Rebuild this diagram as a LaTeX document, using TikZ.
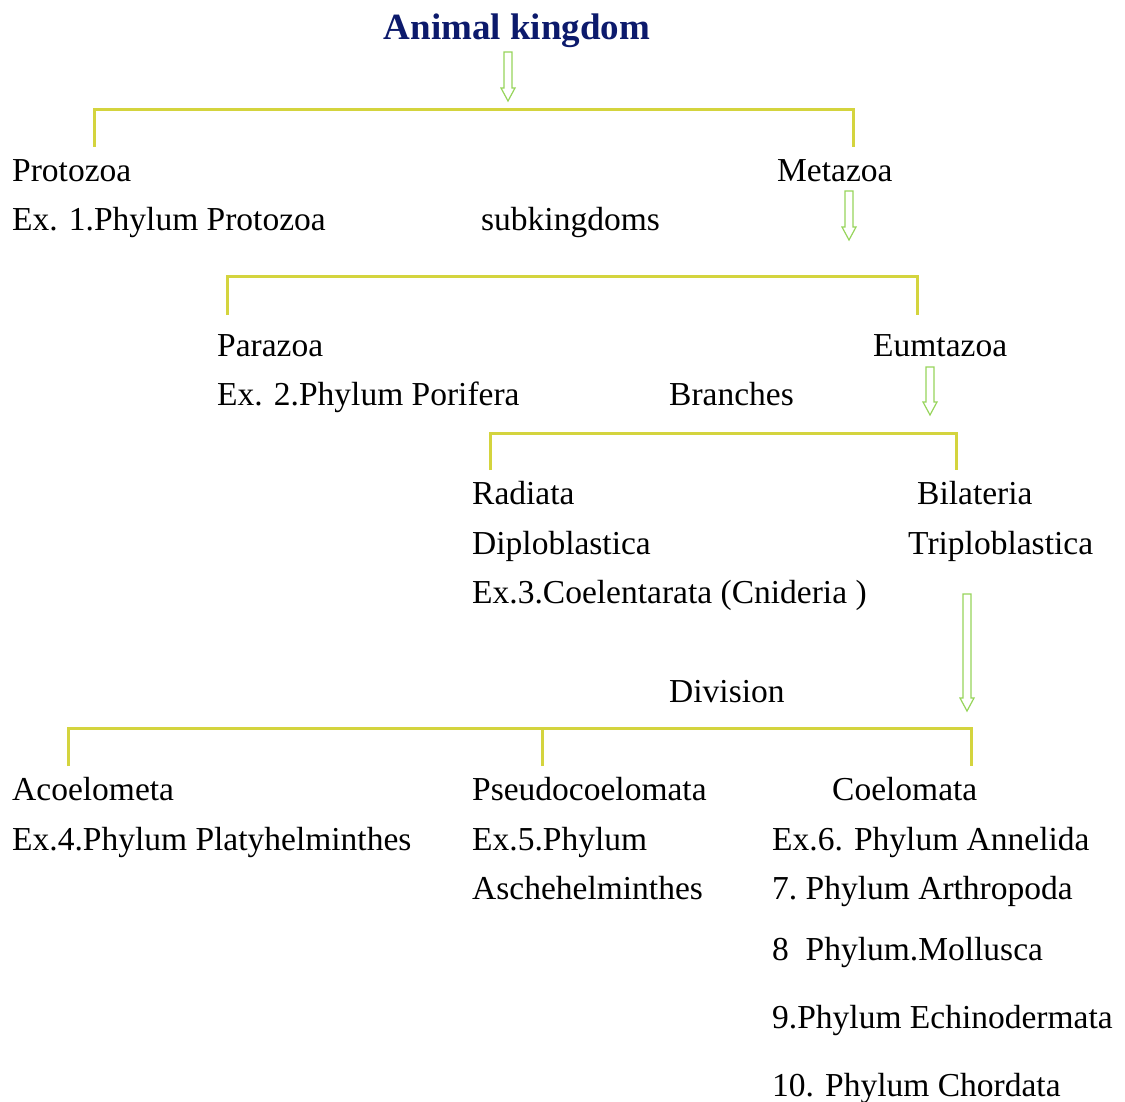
\documentclass[tikz,border=0pt]{standalone}
\usepackage{fontspec}
\setmainfont{Liberation Serif}
\usepackage{tikz}
\definecolor{brkyellow}{RGB}{212,212,62}
\definecolor{arrgreen}{RGB}{150,212,90}
\definecolor{titleblue}{RGB}{12,26,108}
% hollow down arrow: name, top point, length
\newcommand{\hollowarr}[3]{%
  \draw[arr] (#2) coordinate (#1) ++(-4,0) -- ++(8,0) -- ++(0,#3-13) -- ++(3,0)
    -- ++(-7,13) -- ++(-7,-13) -- ++(3,0) -- cycle;}

\begin{document}
\begin{tikzpicture}[x=1pt,y=-1pt,
  lbl/.style={anchor=base west,inner sep=0pt,font=\fontsize{33.5}{38}\selectfont},
  brk/.style={draw=brkyellow,line width=3pt},
  arr/.style={draw=arrgreen,line width=1.2pt,line join=miter}]
\useasboundingbox (0,0) rectangle (1125,1102);

% title
\node[anchor=base,inner sep=0pt,font=\fontsize{37}{40}\selectfont\bfseries,text=titleblue]
  (title) at (517,40) {Animal kingdom};
\coordinate (t1) at (508,52);
\hollowarr{arr1}{t1}{49}

% subkingdoms
\coordinate (b1l) at (94,147);
\coordinate (b1r) at (853,147);
\coordinate (b1top) at (94,110);
\draw[brk] (b1l) |- (b1r |- b1top) -- (b1r);
\node[lbl] (protozoa) at (12,182) {Protozoa};
\node[lbl] (ex1) at (12,231) {Ex. 1.Phylum Protozoa};
\node[lbl] (subk) at (481,231) {subkingdoms};
\node[lbl] (metazoa) at (777,182) {Metazoa};
\coordinate (t2) at (849,191);
\hollowarr{arr2}{t2}{49}

% branches
\coordinate (b2l) at (227,315);
\coordinate (b2r) at (917,315);
\coordinate (b2top) at (227,277);
\draw[brk] (b2l) |- (b2r |- b2top) -- (b2r);
\node[lbl] (parazoa) at (217,356) {Parazoa};
\node[lbl] (ex2) at (217,405) {Ex. 2.Phylum Porifera};
\node[lbl] (branches) at (669,405) {Branches};
\node[lbl] (eumtazoa) at (873,356) {Eumtazoa};
\coordinate (t3) at (930,367);
\hollowarr{arr3}{t3}{48}

% radiata / bilateria
\coordinate (b3l) at (490,470);
\coordinate (b3r) at (956,470);
\coordinate (b3top) at (490,433);
\draw[brk] (b3l) |- (b3r |- b3top) -- (b3r);
\node[lbl] (radiata) at (472,504) {Radiata};
\node[lbl] (diplo) at (472,554) {Diploblastica};
\node[lbl] (ex3) at (472,603) {Ex.3.Coelentarata (Cnideria\ )};
\node[lbl] (bilateria) at (917,504) {Bilateria};
\node[lbl] (triplo) at (908,554) {Triploblastica};
\coordinate (t4) at (967,594);
\hollowarr{arr4}{t4}{117}
\node[lbl] (division) at (669,702) {Division};

% division
\coordinate (b4l) at (68,766);
\coordinate (b4m) at (542,766);
\coordinate (b4r) at (971,766);
\coordinate (b4top) at (68,728);
\draw[brk] (b4l) |- (b4r |- b4top) -- (b4r);
\draw[brk] (b4m) -- (b4m |- b4top);
\node[lbl] (acoel) at (12,800) {Acoelometa};
\node[lbl] (ex4) at (12,850) {Ex.4.Phylum Platyhelminthes};
\node[lbl] (pseudo) at (472,800) {Pseudocoelomata};
\node[lbl] (ex5) at (472,850) {Ex.5.Phylum};
\node[lbl] (asche) at (472,899) {Aschehelminthes};
\node[lbl] (coel) at (832,800) {Coelomata};
\node[lbl] (ex6) at (772,850) {Ex.6. Phylum Annelida};
\node[lbl] (ex7) at (772,899) {7.\ Phylum Arthropoda};
\node[lbl] (ex8) at (772,960) {8\ \ Phylum.Mollusca};
\node[lbl] (ex9) at (772,1028) {9.Phylum Echinodermata};
\node[lbl] (ex10) at (772,1096) {10. Phylum Chordata};
\end{tikzpicture}
\end{document}
